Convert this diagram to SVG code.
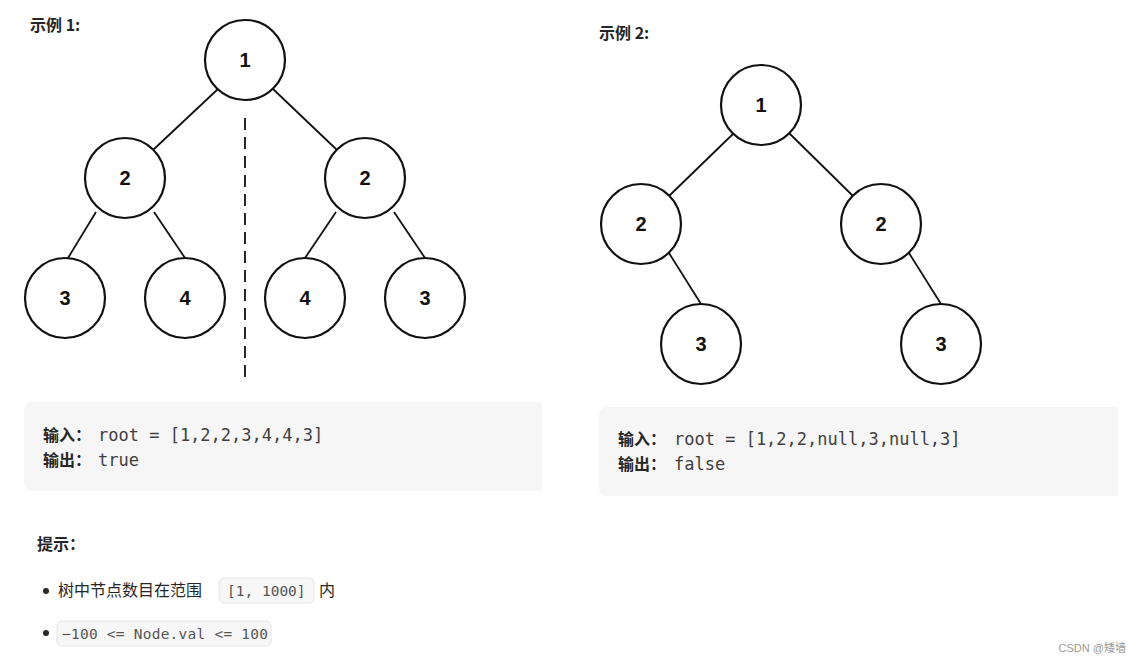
<svg xmlns="http://www.w3.org/2000/svg" width="1141" height="663" viewBox="0 0 1141 663">
<style>
.n circle{fill:#fff;stroke:#111;stroke-width:2.2}
.n text{font-family:"Liberation Sans",Arial,sans-serif;font-weight:bold;font-size:20px;text-anchor:middle;fill:#111}
.e line{stroke:#111;stroke-width:1.8}
.h{font-family:"Noto Sans CJK SC","Liberation Sans",sans-serif;font-weight:bold;font-size:16px;fill:#262626}
.m{font-family:"DejaVu Sans Mono","Liberation Mono",monospace;font-size:17px;fill:#404040}
.t{font-family:"Noto Sans CJK SC",sans-serif;font-size:16px;fill:#262626}
.c{font-family:"DejaVu Sans Mono",monospace;font-size:14.5px;fill:#555}
.code{fill:#f7f7f8;stroke:#e6e6e6;stroke-width:1}
</style>
<rect width="1141" height="663" fill="#fff"/>
<text class="h" x="30" y="31">示例 1:</text>
<text class="h" x="599" y="39">示例 2:</text>
<g class="e" id="connectors">
<line x1="218" y1="89" x2="153" y2="150"/><line x1="273" y1="89" x2="337" y2="150"/>
<line x1="96" y1="212" x2="68" y2="258"/><line x1="154" y1="212" x2="185" y2="258"/>
<line x1="336" y1="212" x2="305" y2="258"/><line x1="394" y1="212" x2="425" y2="258"/>
<line x1="245" y1="118" x2="245" y2="380" stroke-dasharray="12,7" stroke-width="3"/>
<line x1="734" y1="133" x2="669" y2="196"/><line x1="789" y1="133" x2="853" y2="196"/>
<line x1="669" y1="253" x2="701" y2="304"/><line x1="909" y1="253" x2="941" y2="304"/>
</g>
<g class="n" id="a1"><circle cx="245" cy="60" r="40"/><text x="245" y="67">1</text></g>
<g class="n" id="a2l"><circle cx="125" cy="178" r="40"/><text x="125" y="185">2</text></g>
<g class="n" id="a2r"><circle cx="365" cy="178" r="40"/><text x="365" y="185">2</text></g>
<g class="n" id="a3l"><circle cx="65" cy="298" r="40"/><text x="65" y="305">3</text></g>
<g class="n" id="a4l"><circle cx="185" cy="298" r="40"/><text x="185" y="305">4</text></g>
<g class="n" id="a4r"><circle cx="305" cy="298" r="40"/><text x="305" y="305">4</text></g>
<g class="n" id="a3r"><circle cx="425" cy="298" r="40"/><text x="425" y="305">3</text></g>
<g class="n" id="b1"><circle cx="761" cy="105" r="40"/><text x="761" y="112">1</text></g>
<g class="n" id="b2l"><circle cx="641" cy="224" r="40"/><text x="641" y="231">2</text></g>
<g class="n" id="b2r"><circle cx="881" cy="224" r="40"/><text x="881" y="231">2</text></g>
<g class="n" id="b3l"><circle cx="701" cy="344" r="40"/><text x="701" y="351">3</text></g>
<g class="n" id="b3r"><circle cx="941" cy="344" r="40"/><text x="941" y="351">3</text></g>
<path d="M542 402 H32 a8 8 0 0 0 -8 8 V483 a8 8 0 0 0 8 8 H542 Z" fill="#f6f6f6"/>
<path d="M1118 407 H607 a8 8 0 0 0 -8 8 V488 a8 8 0 0 0 8 8 H1118 Z" fill="#f6f6f6"/>
<text x="43" y="441"><tspan class="h">输入：</tspan><tspan class="m" x="98">root = [1,2,2,3,4,4,3]</tspan></text>
<text x="43" y="466"><tspan class="h">输出：</tspan><tspan class="m" x="98">true</tspan></text>
<text x="618" y="445"><tspan class="h">输入：</tspan><tspan class="m" x="674">root = [1,2,2,null,3,null,3]</tspan></text>
<text x="618" y="470"><tspan class="h">输出：</tspan><tspan class="m" x="674">false</tspan></text>
<text class="h" x="37" y="550">提示：</text>
<circle cx="46" cy="591" r="3" fill="#262626"/>
<text class="t" x="58" y="596">树中节点数目在范围</text>
<rect class="code" x="219" y="578" width="95" height="25" rx="5"/>
<text class="c" x="227" y="596">[1, 1000]</text>
<text class="t" x="319" y="596">内</text>
<circle cx="46" cy="633" r="3" fill="#262626"/>
<rect class="code" x="57" y="621" width="214" height="25" rx="5"/>
<text class="c" x="62" y="639" textLength="206">−100 &lt;= Node.val &lt;= 100</text>
<text x="1126" y="652" text-anchor="end" font-family="Liberation Sans,Noto Sans CJK SC,sans-serif" font-size="11" fill="#999">CSDN @矮墙</text>
</svg>
